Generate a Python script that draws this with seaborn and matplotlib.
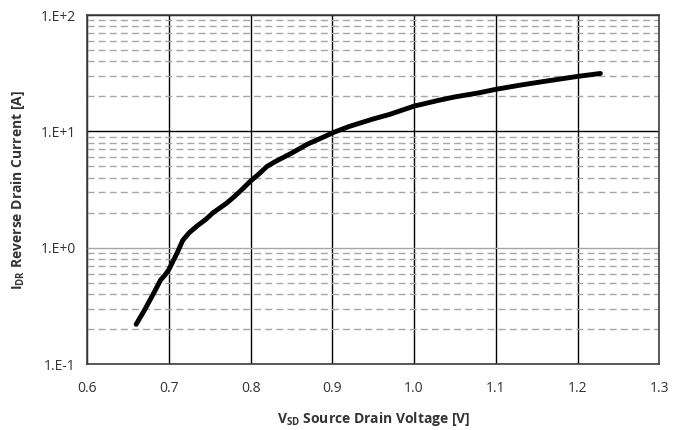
import matplotlib
matplotlib.use("Agg")
import matplotlib.pyplot as plt
import matplotlib.ticker as mticker
import seaborn as sns
import pandas as pd

# reverse drain current vs source-drain voltage
vsd = [0.66, 0.67, 0.68, 0.69, 0.695, 0.70, 0.71, 0.717, 0.725, 0.735, 0.745, 0.754,
       0.77, 0.78, 0.79, 0.80, 0.81, 0.82, 0.83, 0.85, 0.87, 0.89, 0.90, 0.92,
       0.95, 0.97, 1.00, 1.03, 1.05, 1.08, 1.10, 1.13, 1.15, 1.18, 1.20, 1.228]
idr = [0.22, 0.29, 0.39, 0.53, 0.58, 0.65, 0.9, 1.16, 1.35, 1.55, 1.75, 2.0,
       2.4, 2.75, 3.2, 3.75, 4.3, 5.0, 5.5, 6.5, 7.8, 9.0, 9.7, 11.0,
       12.8, 14.0, 16.5, 18.5, 19.8, 21.5, 23.0, 25.0, 26.3, 28.3, 29.7, 31.5]

df = pd.DataFrame({"vsd": vsd, "idr": idr})

sns.set_style("white")
plt.rcParams["font.family"] = ["Open Sans", "DejaVu Sans"]
plt.rcParams["mathtext.fontset"] = "custom"
plt.rcParams["mathtext.bf"] = "Open Sans:bold"
plt.rcParams["mathtext.rm"] = "Open Sans"

fig = plt.figure(figsize=(6.86, 4.30), dpi=100)
ax = fig.add_axes([0.127, 0.153, 0.834, 0.812])

sns.lineplot(data=df, x="vsd", y="idr", ax=ax, color="black", linewidth=3.5)

ax.set_yscale("log")
ax.set_xlim(0.6, 1.3)
ax.set_ylim(0.1, 100)

ax.xaxis.set_major_locator(mticker.MultipleLocator(0.1))
ax.xaxis.set_major_formatter(mticker.FormatStrFormatter("%.1f"))
ax.yaxis.set_major_locator(mticker.LogLocator(base=10, numticks=10))
ax.yaxis.set_minor_locator(mticker.LogLocator(base=10, subs=range(2, 10), numticks=10))
ax.yaxis.set_minor_formatter(mticker.NullFormatter())
ax.yaxis.set_major_formatter(mticker.FuncFormatter(
    lambda v, p: "1.E{:+d}".format(int(round(__import__("math").log10(v))))))

ax.grid(True, which="major", axis="x", color="black", linewidth=1.0)
ax.grid(True, which="major", axis="y", color="black", linewidth=1.0)
ax.grid(True, which="minor", axis="y", color="#a6a6a6", linewidth=1.0, linestyle=(0, (5, 3)))
for val, gl in zip(ax.yaxis.get_majorticklocs(), ax.yaxis.get_gridlines()):
    if abs(val - 1.0) < 1e-9:
        gl.set_color("#a6a6a6")
ax.set_axisbelow(True)

for s in ax.spines.values():
    s.set_color("#404040")
    s.set_linewidth(1.2)

ax.tick_params(axis="both", which="both", length=0, labelsize=10, colors="#333333", pad=8)
ax.tick_params(axis="x", pad=12)

ax.set_xlabel(r"V$_{\mathbf{SD}}$ Source Drain Voltage [V]", fontsize=10,
              fontweight="bold", color="#333333", labelpad=10)
ax.set_ylabel(r"I$_{\mathbf{DR}}$ Reverse Drain Current [A]", fontsize=10,
              fontweight="bold", color="#333333", labelpad=10)

fig.savefig("out.png", dpi=100)
